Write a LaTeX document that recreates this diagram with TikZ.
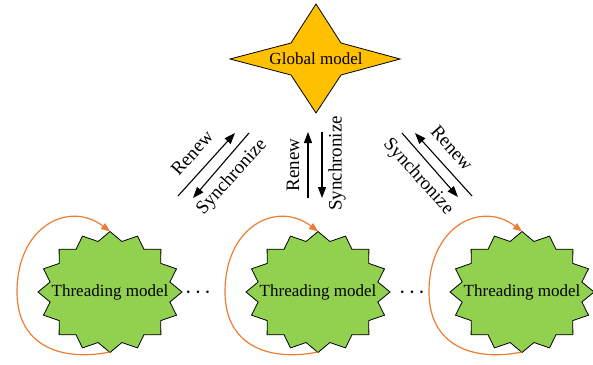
\documentclass[tikz,border=0pt]{standalone}
\usepackage{fontspec}
\setmainfont{Liberation Serif}
\usetikzlibrary{arrows.meta}
\definecolor{globalfill}{HTML}{FFC000}
\definecolor{threadfill}{HTML}{92D050}
\definecolor{loopline}{HTML}{ED7D31}

\begin{document}
\begin{tikzpicture}[x=1pt,y=-1pt,
    starline/.style={draw=black, line width=0.8pt, line join=miter},
    modeltext/.style={inner sep=0pt, font=\fontsize{17}{20}\selectfont},
    dotstext/.style={inner sep=0pt, font=\fontsize{26}{28}\selectfont},
    flowlabel/.style={inner sep=0pt, font=\fontsize{19}{22}\selectfont},
    flow/.style={draw=black, line width=1.1pt, -{Triangle[length=11pt,width=8pt]}},
    selfloop/.style={draw=loopline, line width=1.2pt, -{Triangle[length=9pt,width=7pt]}}]
  \useasboundingbox (0,0) rectangle (593,364);

  % global model
  \path[starline, fill=globalfill] (316,4) -- (341,43) -- (400,59) -- (341,75)
    -- (316,113) -- (291,75) -- (230,59) -- (291,43) -- cycle;
  \node[modeltext] (global) at (316,59) {Global model};

  % threading models with their loops
  \foreach \n/\cx in {thread1/110, thread2/318, thread3/522}{
    \path[starline, fill=threadfill, shift={(\cx,292)}] (0:72 and 60.5)
      \foreach \a in {0,22.5,...,337.5}{ -- ({\a+11.25}:61 and 51.5) -- ({\a+22.5}:72 and 60.5)} -- cycle;
    \node[modeltext] (\n) at (\cx,292) {Threading model};
    \coordinate (\n-bot) at (\cx,352);
    \coordinate (\n-left) at (\cx-93,292);
    \coordinate (\n-top) at (\cx,231.5);
    \draw[selfloop] (\n-bot) .. controls +(-50,10) and +(0,53) .. (\n-left)
      .. controls +(0,-67) and +(-40,-31) .. (\n-top);
  }
  \node[dotstext] (dots1) at (198,293) {$\cdot$\hspace{2.8pt}$\cdot$\hspace{2.8pt}$\cdot$};
  \node[dotstext] (dots2) at (412,293) {$\cdot$\hspace{2.8pt}$\cdot$\hspace{2.8pt}$\cdot$};

  % renew / synchronize arrows
  \coordinate (renewL-s) at (178,196);  \coordinate (renewL-e) at (235,133);
  \coordinate (syncL-s) at (249,133);   \coordinate (syncL-e) at (193,198);
  \coordinate (renewM-s) at (308,198);  \coordinate (renewM-e) at (308,132);
  \coordinate (syncM-s) at (322,132);   \coordinate (syncM-e) at (322,198);
  \coordinate (renewR-s) at (472,196);  \coordinate (renewR-e) at (415,133);
  \coordinate (syncR-s) at (402,133);   \coordinate (syncR-e) at (458,197);
  \draw[flow] (renewL-s) -- (renewL-e);
  \draw[flow] (syncL-s) -- (syncL-e);
  \draw[flow] (renewM-s) -- (renewM-e);
  \draw[flow] (syncM-s) -- (syncM-e);
  \draw[flow] (renewR-s) -- (renewR-e);
  \draw[flow] (syncR-s) -- (syncR-e);

  \node[flowlabel, rotate=48] (renewL) at (192,153) {Renew};
  \node[flowlabel, rotate=48] (syncL) at (232,177) {Synchronize};
  \node[flowlabel, rotate=90] (renewM) at (293,165) {Renew};
  \node[flowlabel, rotate=90] (syncM) at (337,163.5) {Synchronize};
  \node[flowlabel, rotate=-48] (renewR) at (452,148) {Renew};
  \node[flowlabel, rotate=-48] (syncR) at (418,177) {Synchronize};
\end{tikzpicture}
\end{document}
